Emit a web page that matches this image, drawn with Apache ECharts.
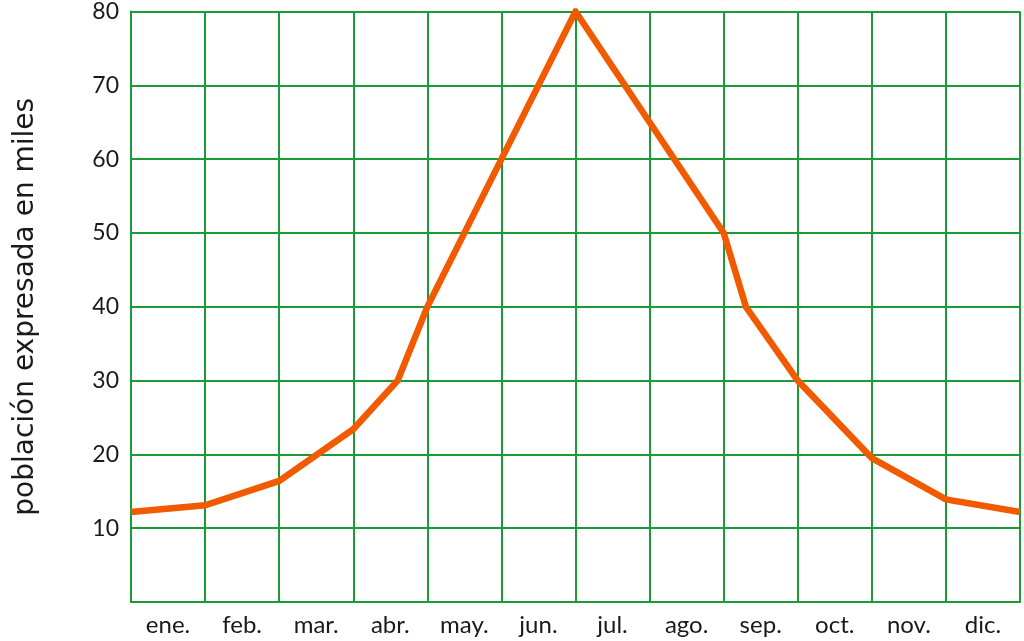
<!DOCTYPE html>
<html>
<head>
<meta charset="utf-8">
<script src="https://cdn.jsdelivr.net/npm/echarts@6/dist/echarts.min.js"></script>
<style>
html,body{margin:0;padding:0;background:#fff;}
#chart{width:1024px;height:641px;}
</style>
</head>
<body>
<div id="chart"></div>
<script>
// Month labels (shown centred in each month column)
var months = ['ene.', 'feb.', 'mar.', 'abr.', 'may.', 'jun.', 'jul.', 'ago.', 'sep.', 'oct.', 'nov.', 'dic.'];
// Line vertices: position along the year (in months, 0..12) and population in thousands
var positions = [0, 1, 2, 3, 3.6, 4, 5, 6, 7, 8, 8.3, 9, 10, 11, 12];
var population = [12.2, 13.1, 16.4, 23.4, 30, 40, 60, 80, 65, 50, 40, 30, 19.5, 13.9, 12.2];
var yTicks = [10, 20, 30, 40, 50, 60, 70, 80];

var GREEN = '#1a9b36';
var ORANGE = '#f25a00';
var FONT = 'Lato';
var NAME_FONT = 'DejaVu Sans';

var lineData = positions.map(function (p, i) { return [p, population[i]]; });

var chart = echarts.init(document.getElementById('chart'), null, { renderer: 'canvas' });
chart.setOption({
  animation: false,
  backgroundColor: '#ffffff',
  grid: { left: 131, right: 4, top: 10, bottom: 39, containLabel: false },
  xAxis: [
    {
      type: 'value', min: 0, max: 12, interval: 1,
      axisLine: { show: true, lineStyle: { color: GREEN, width: 2 } },
      axisTick: { show: false },
      axisLabel: { show: false },
      splitLine: { show: true, lineStyle: { color: GREEN, width: 2 } }
    },
    {
      type: 'category', data: months, boundaryGap: true, position: 'bottom',
      axisLine: { show: false }, axisTick: { show: false },
      splitLine: { show: false },
      axisLabel: { color: '#1a1a1a', fontSize: 24, fontFamily: FONT, margin: 11 }
    }
  ],
  yAxis: {
    type: 'value', min: 0, max: 80, interval: 10,
    name: 'población expresada en miles',
    nameLocation: 'middle', nameRotate: 90, nameGap: 91,
    nameTextStyle: { color: '#1a1a1a', fontSize: 28, fontFamily: NAME_FONT },
    axisLine: { show: true, lineStyle: { color: GREEN, width: 2 } },
    axisTick: { show: false },
    axisLabel: {
      color: '#1a1a1a', fontSize: 23, fontFamily: FONT, margin: 12,
      formatter: function (v) { return yTicks.indexOf(v) >= 0 ? String(v) : ''; }
    },
    splitLine: { show: true, lineStyle: { color: GREEN, width: 2 } }
  },
  series: [{
    type: 'line', xAxisIndex: 0, data: lineData,
    showSymbol: false, symbol: 'none',
    lineStyle: { color: ORANGE, width: 6.5, join: 'miter' },
    z: 5
  }]
});
</script>
</body>
</html>
